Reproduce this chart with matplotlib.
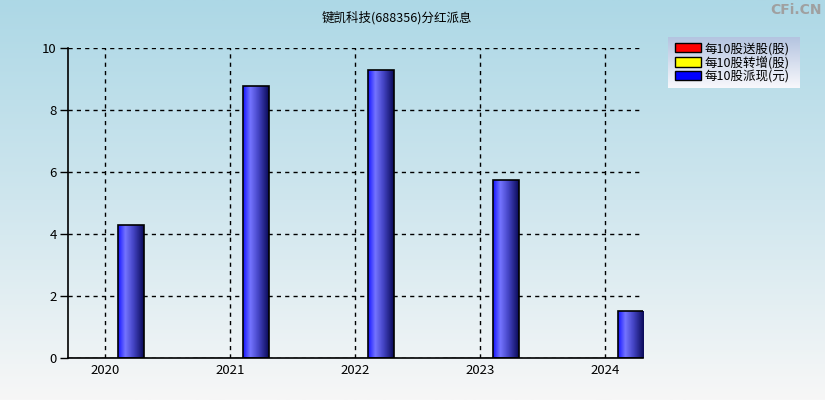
import numpy as np
import matplotlib
matplotlib.use("Agg")
import matplotlib.pyplot as plt
from matplotlib.colors import LinearSegmentedColormap
from matplotlib.patches import Rectangle

plt.rcParams['font.family'] = ['Noto Sans CJK SC', 'DejaVu Sans']

years = [2020, 2021, 2022, 2023, 2024]
song = [0, 0, 0, 0, 0]       # 每10股送股(股)
zhuan = [0, 0, 0, 0, 0]      # 每10股转增(股)
pai = [4.29, 8.8, 9.29, 5.74, 1.52]  # 每10股派现(元)
legend_labels = ['每10股送股(股)', '每10股转增(股)', '每10股派现(元)']
title = '键凯科技(688356)分红派息'
yticks = [0, 2, 4, 6, 8, 10]

W, H = 825, 400
fig = plt.figure(figsize=(W / 100, H / 100), dpi=100)

# background gradient
bg = fig.add_axes([0, 0, 1, 1], zorder=-10)
bg_cmap = LinearSegmentedColormap.from_list('bg', ['#add8e6', '#cfe6ee', '#f7f7f7'])
bg.imshow(np.linspace(0, 1, 256).reshape(-1, 1), aspect='auto', cmap=bg_cmap,
          extent=[0, 1, 0, 1], origin='upper')
bg.set_axis_off()

ax = fig.add_axes([68 / W, (H - 358.3) / H, (643 - 68) / W, 310 / H])
ax.patch.set_alpha(0)

x = np.array(years, dtype=float)
bw = 0.205
bars_r = ax.bar(x - 0.2, song, width=bw, color='#ff0000', edgecolor='black', linewidth=1)
bars_y = ax.bar(x, zhuan, width=bw, color='#ffff00', edgecolor='black', linewidth=1)
bars_b = ax.bar(x + 0.207, pai, width=bw, color='none', edgecolor='black', linewidth=1.2, zorder=3)

bar_cmap = LinearSegmentedColormap.from_list(
    'bar', [(0, '#1414ff'), (0.28, '#7474ff'), (0.6, '#4444c4'), (1.0, '#0a0a58')])
grad = np.linspace(0, 1, 128).reshape(1, -1)
for p in bars_b:
    x0, y0 = p.get_x(), p.get_y()
    w, h = p.get_width(), p.get_height()
    if h <= 0:
        continue
    im = ax.imshow(grad, aspect='auto', cmap=bar_cmap, extent=[x0, x0 + w, y0, y0 + h],
                   zorder=2.5, interpolation='bilinear')
    im.set_clip_path(p)

ax.set_xlim(2019.704, 2024.304)
ax.set_ylim(0, 10)
ax.set_xticks(years)
ax.set_xticklabels([str(y) for y in years])
ax.set_yticks(yticks)
ax.grid(True, color='black', linestyle=(0, (3, 3)), linewidth=1)
ax.set_axisbelow(True)
for s in ['top', 'right']:
    ax.spines[s].set_visible(False)
for s in ['left', 'bottom']:
    ax.spines[s].set_linewidth(1.2)
ax.tick_params(axis='y', length=6, width=1, labelsize=9.5, pad=2)
ax.tick_params(axis='x', length=0, labelsize=9.5, pad=4)

fig.text(397 / W, 1 - 18 / H, title, ha='center', va='center', fontsize=9)
fig.text(822 / W, 1 - 10 / H, 'CFi.CN', ha='right', va='center', fontsize=10,
         color='#a0a0a0', fontweight='bold', family=['DejaVu Sans'])

# legend box with gradient
lax = fig.add_axes([668 / W, (H - 88) / H, 132 / W, 51 / H])
lg_cmap = LinearSegmentedColormap.from_list('lg', ['#b4c4e0', '#f8f8fc'])
lax.imshow(np.linspace(0, 1, 64).reshape(-1, 1), aspect='auto', cmap=lg_cmap,
           extent=[0, 1, 0, 1], origin='upper')
lax.set_xlim(0, 1)
lax.set_ylim(0, 1)
lax.set_axis_off()
handles = [Rectangle((0, 0), 1, 1, facecolor=c, edgecolor='black', linewidth=1)
           for c in ['#ff0000', '#ffff00', '#0000ff']]
leg = lax.legend(handles, legend_labels, loc='center left', bbox_to_anchor=(0.0, 0.5),
                 frameon=False, fontsize=9, handlelength=2.1, handleheight=0.8,
                 handletextpad=0.3, labelspacing=0.05, borderpad=0.2, borderaxespad=0.35)

fig.savefig('out.png', dpi=100)
